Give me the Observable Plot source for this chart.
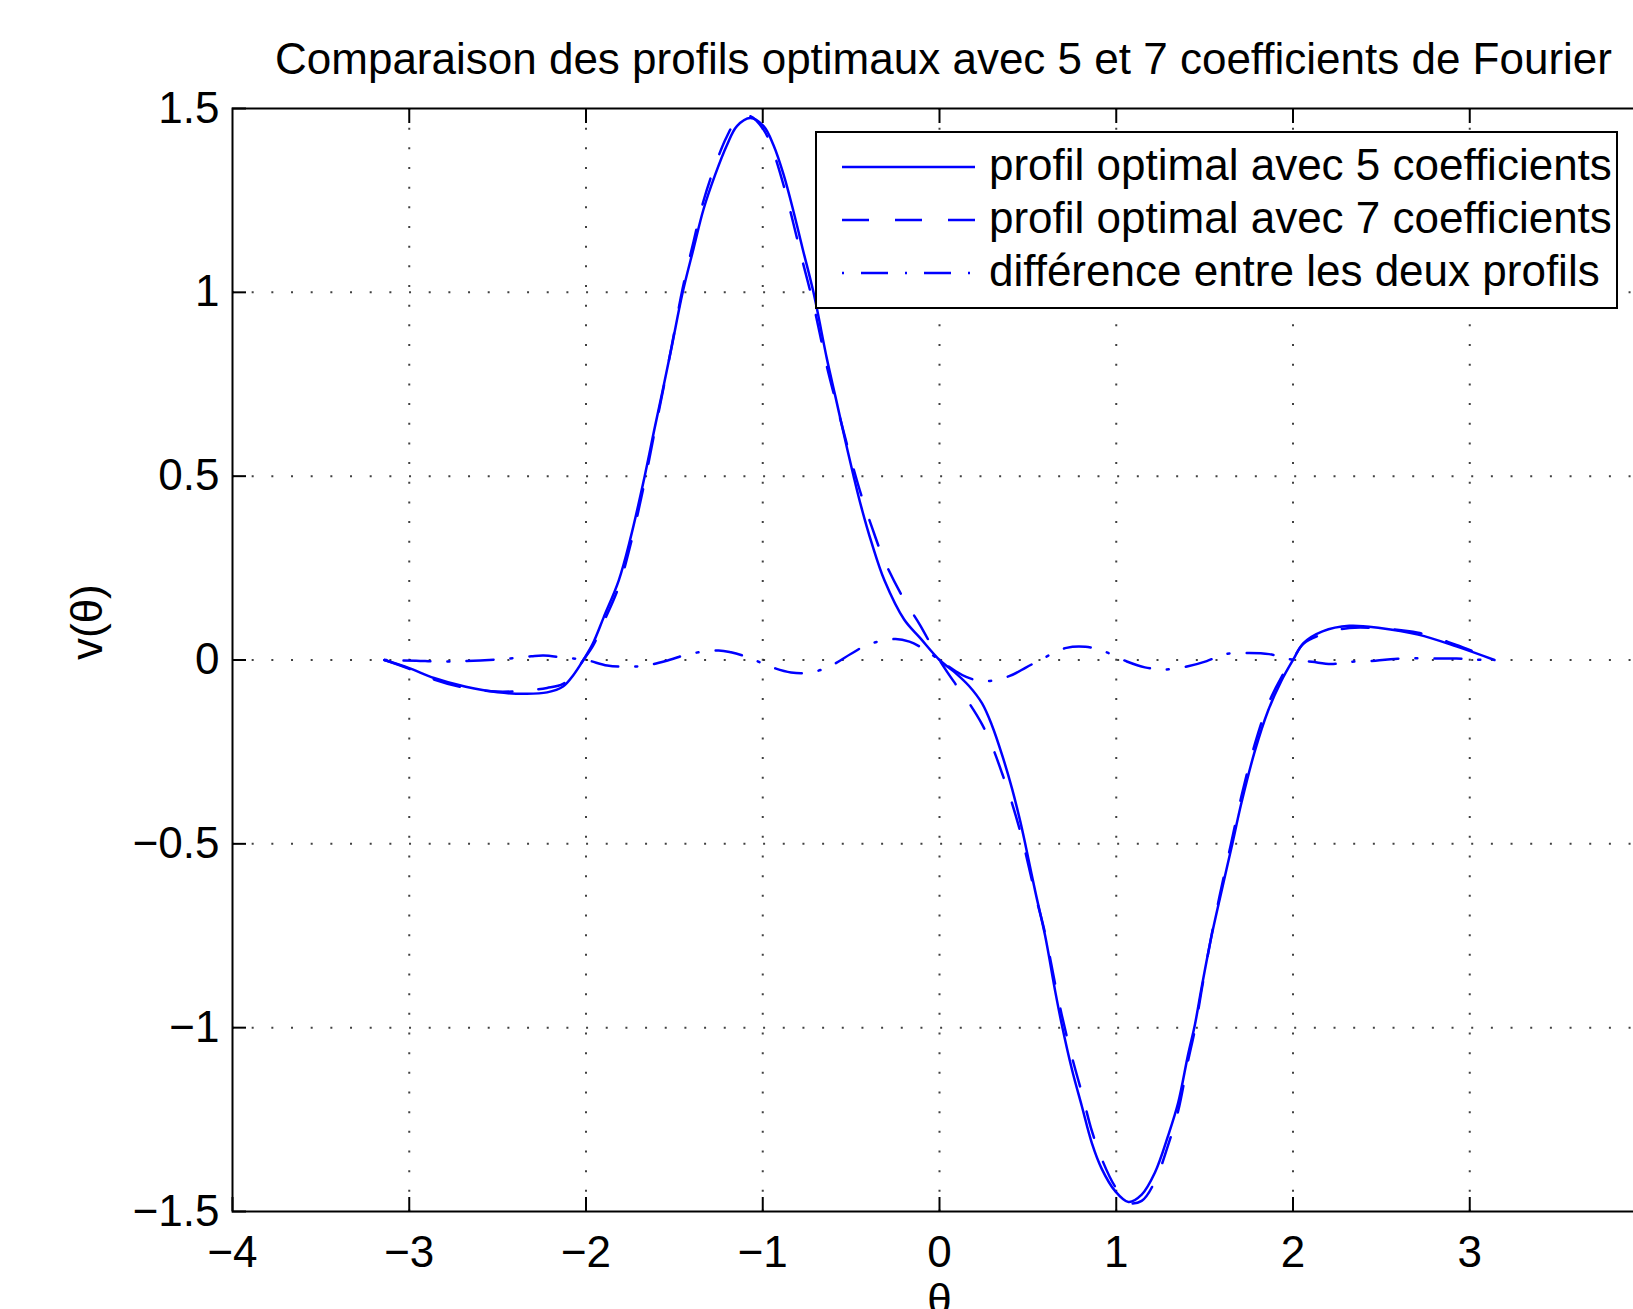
<!DOCTYPE html>
<html>
<head>
<meta charset="utf-8">
<script src="https://cdn.jsdelivr.net/npm/d3@7"></script>
<script src="https://cdn.jsdelivr.net/npm/@observablehq/plot@0.6"></script>
<style>
  html, body { margin: 0; padding: 0; background: #fff; }
  body { width: 1633px; height: 1309px; overflow: hidden; position: relative; font-family: "Liberation Sans", Arial, sans-serif; }
  #chart { position: absolute; left: 0; top: 80px; z-index: 1; }
  #title { position: absolute; top: 0; left: 943.5px; transform: translateX(-50%); white-space: nowrap; z-index: 2;
           font-size: 44px; line-height: 44px; padding-top: 37px; color: #000; }
  #legend { position: absolute; left: 815px; top: 131px; z-index: 3; }
</style>
</head>
<body>
<div id="chart"></div>
<div id="title">Comparaison des profils optimaux avec 5 et 7 coefficients de Fourier</div>
<div id="legend"></div>
<script>
// ---- data ----
const seriesNames = ["profil optimal avec 5 coefficients", "profil optimal avec 7 coefficients", "différence entre les deux profils"];

const thetaProfiles = [-3.14,-3.0,-2.86,-2.68,-2.50,-2.34,-2.22,-2.13,-2.07,-2.015,-1.96,-1.90,-1.815,-1.749,-1.668,-1.612,-1.561,-1.514,-1.453,-1.391,-1.335,-1.269,-1.203,-1.146,-1.071,-0.995,-0.939,-0.882,-0.826,-0.775,-0.713,-0.637,-0.590,-0.543,-0.486,-0.443,-0.383,-0.311,-0.2,-0.11,0,0.09,0.166,0.241,0.297,0.354,0.410,0.457,0.485,0.542,0.598,0.655,0.692,0.749,0.805,0.862,0.918,0.993,1.069,1.144,1.219,1.294,1.351,1.407,1.445,1.483,1.539,1.595,1.652,1.708,1.784,1.859,1.934,2.0,2.059,2.167,2.319,2.492,2.708,2.924,3.14];

const v5 = [0,-0.022,-0.049,-0.073,-0.088,-0.092,-0.088,-0.072,-0.040,0,0.046,0.116,0.216,0.33,0.5,0.63,0.745,0.855,1.0,1.12,1.226,1.32,1.40,1.452,1.474,1.452,1.40,1.32,1.22,1.12,1.0,0.819,0.719,0.618,0.5,0.417,0.317,0.216,0.11,0.06,0,-0.035,-0.07,-0.118,-0.178,-0.258,-0.349,-0.439,-0.5,-0.630,-0.751,-0.902,-0.992,-1.113,-1.213,-1.314,-1.384,-1.444,-1.474,-1.454,-1.394,-1.293,-1.203,-1.072,-0.992,-0.891,-0.751,-0.630,-0.510,-0.389,-0.248,-0.138,-0.057,0,0.046,0.078,0.093,0.087,0.069,0.037,0];

const v7 = [0,-0.024,-0.053,-0.076,-0.086,-0.083,-0.076,-0.065,-0.037,0,0.039,0.103,0.199,0.312,0.485,0.62,0.741,0.857,1.011,1.139,1.249,1.346,1.424,1.468,1.479,1.442,1.380,1.291,1.186,1.085,0.967,0.798,0.709,0.622,0.520,0.449,0.362,0.269,0.164,0.095,0,-0.065,-0.116,-0.175,-0.234,-0.308,-0.389,-0.467,-0.521,-0.638,-0.745,-0.883,-0.966,-1.079,-1.177,-1.281,-1.357,-1.432,-1.476,-1.471,-1.418,-1.319,-1.225,-1.089,-1.005,-0.898,-0.749,-0.619,-0.494,-0.371,-0.229,-0.121,-0.047,0.002,0.044,0.070,0.087,0.086,0.074,0.041,0];

const thetaDiff = [-3.14,-2.96,-2.84,-2.68,-2.48,-2.31,-2.24,-2.12,-2.0,-1.88,-1.77,-1.66,-1.53,-1.42,-1.25,-1.18,-1.07,-0.975,-0.84,-0.73,-0.62,-0.50,-0.405,-0.25,-0.17,-0.09,0,0.09,0.151,0.253,0.394,0.491,0.588,0.718,0.826,0.928,1.06,1.162,1.27,1.406,1.512,1.616,1.752,1.865,1.973,2.107,2.215,2.323,2.466,2.574,2.687,2.816,2.925,3.03,3.14];

const vDiff = [0,-0.002,-0.004,-0.003,0.002,0.010,0.012,0.006,0,-0.015,-0.018,-0.015,0,0.016,0.026,0.021,0.005,-0.015,-0.034,-0.034,-0.017,0.017,0.042,0.057,0.050,0.030,0,-0.030,-0.046,-0.058,-0.044,-0.020,0.005,0.033,0.036,0.024,-0.004,-0.020,-0.026,-0.017,-0.003,0.016,0.019,0.016,0.003,-0.005,-0.011,-0.005,-0.002,0.003,0.005,0.004,0.004,0.001,0];

const xTicks = [-4,-3,-2,-1,0,1,2,3];
const xTickLabels = ["−4","−3","−2","−1","0","1","2","3"];
const yTicks = [-1.5,-1,-0.5,0,0.5,1,1.5];
const yTickLabels = ["−1.5","−1","−0.5","0","0.5","1","1.5"];
const xGrid = [-3,-2,-1,0,1,2,3];
const yGrid = [-1,-0.5,0,0.5,1];
const xLabel = "θ";
const yLabel = "v(θ)";

// ---- build tables ----
const d5 = thetaProfiles.map((t, i) => ({theta: t, v: v5[i]}));
const d7 = thetaProfiles.map((t, i) => ({theta: t, v: v7[i]}));
const dd = thetaDiff.map((t, i) => ({theta: t, v: vDiff[i]}));

const blue = "#0000ff";
const dashStyle = "27,26";
const dashDotStyle = "2,17,27,17";
const fmtX = d => xTickLabels[xTicks.indexOf(d)];
const fmtY = d => yTickLabels[yTicks.indexOf(d)];

const chart = Plot.plot({
  width: 1633,
  height: 1229,
  marginLeft: 232,
  marginRight: -13,
  marginTop: 28,
  marginBottom: 98,
  style: {fontFamily: "'Liberation Sans', Arial, sans-serif", fontSize: "44px", color: "black", background: "transparent"},
  x: {domain: [-4, 4]},
  y: {domain: [-1.5, 1.5]},
  marks: [
    Plot.ruleX(xGrid, {x: d => d, stroke: "black", strokeWidth: 2, strokeOpacity: 0.75, strokeDasharray: "2,17.67"}),
    Plot.ruleY(yGrid, {y: d => d, stroke: "black", strokeWidth: 2, strokeOpacity: 0.75, strokeDasharray: "2,17.67"}),
    Plot.line(d5, {x: "theta", y: "v", stroke: blue, strokeWidth: 2.5, curve: "catmull-rom"}),
    Plot.line(d7, {x: "theta", y: "v", stroke: blue, strokeWidth: 2.5, strokeDasharray: dashStyle, curve: "catmull-rom"}),
    Plot.line(dd, {x: "theta", y: "v", stroke: blue, strokeWidth: 2.5, strokeDasharray: dashDotStyle, curve: "catmull-rom"}),
    Plot.frame({stroke: "black", strokeWidth: 2}),
    Plot.axisX({anchor: "bottom", ticks: xTicks, tickSize: -14, tickPadding: 38, tickFormat: fmtX, label: null, strokeWidth: 2, fontSize: 44}),
    Plot.axisX({anchor: "top", ticks: xGrid, tickSize: -14, tickFormat: () => "", label: null, strokeWidth: 2}),
    Plot.axisY({anchor: "left", ticks: yTicks, tickSize: -14, tickPadding: 27, tickFormat: fmtY, label: null, strokeWidth: 2, fontSize: 44}),
    Plot.text([yLabel], {frameAnchor: "left", dx: -145, rotate: -90, fontSize: 44, lineAnchor: "middle", text: d => d}),
    Plot.text([xLabel], {frameAnchor: "bottom", dy: 72, fontSize: 44, lineAnchor: "top", text: d => d})
  ]
});
document.getElementById("chart").appendChild(chart);

// ---- legend (boxed, inside the axes, top right) ----
const lg = d3.select("#legend").append("svg")
  .attr("width", 803).attr("height", 178)
  .style("display", "block")
  .attr("font-family", "'Liberation Sans', Arial, sans-serif")
  .attr("font-size", 44);
lg.append("rect").attr("x", 1).attr("y", 1).attr("width", 801).attr("height", 176)
  .attr("fill", "white").attr("stroke", "black").attr("stroke-width", 2);
const styles = [null, dashStyle, dashDotStyle];
seriesNames.forEach((name, i) => {
  const cy = 36 + i * 53;
  lg.append("line").attr("x1", 27).attr("x2", 160).attr("y1", cy).attr("y2", cy)
    .attr("stroke", blue).attr("stroke-width", 2.5)
    .attr("stroke-dasharray", styles[i]);
  lg.append("text").attr("x", 174).attr("y", cy + 13).attr("fill", "black").text(name);
});
</script>
</body>
</html>
